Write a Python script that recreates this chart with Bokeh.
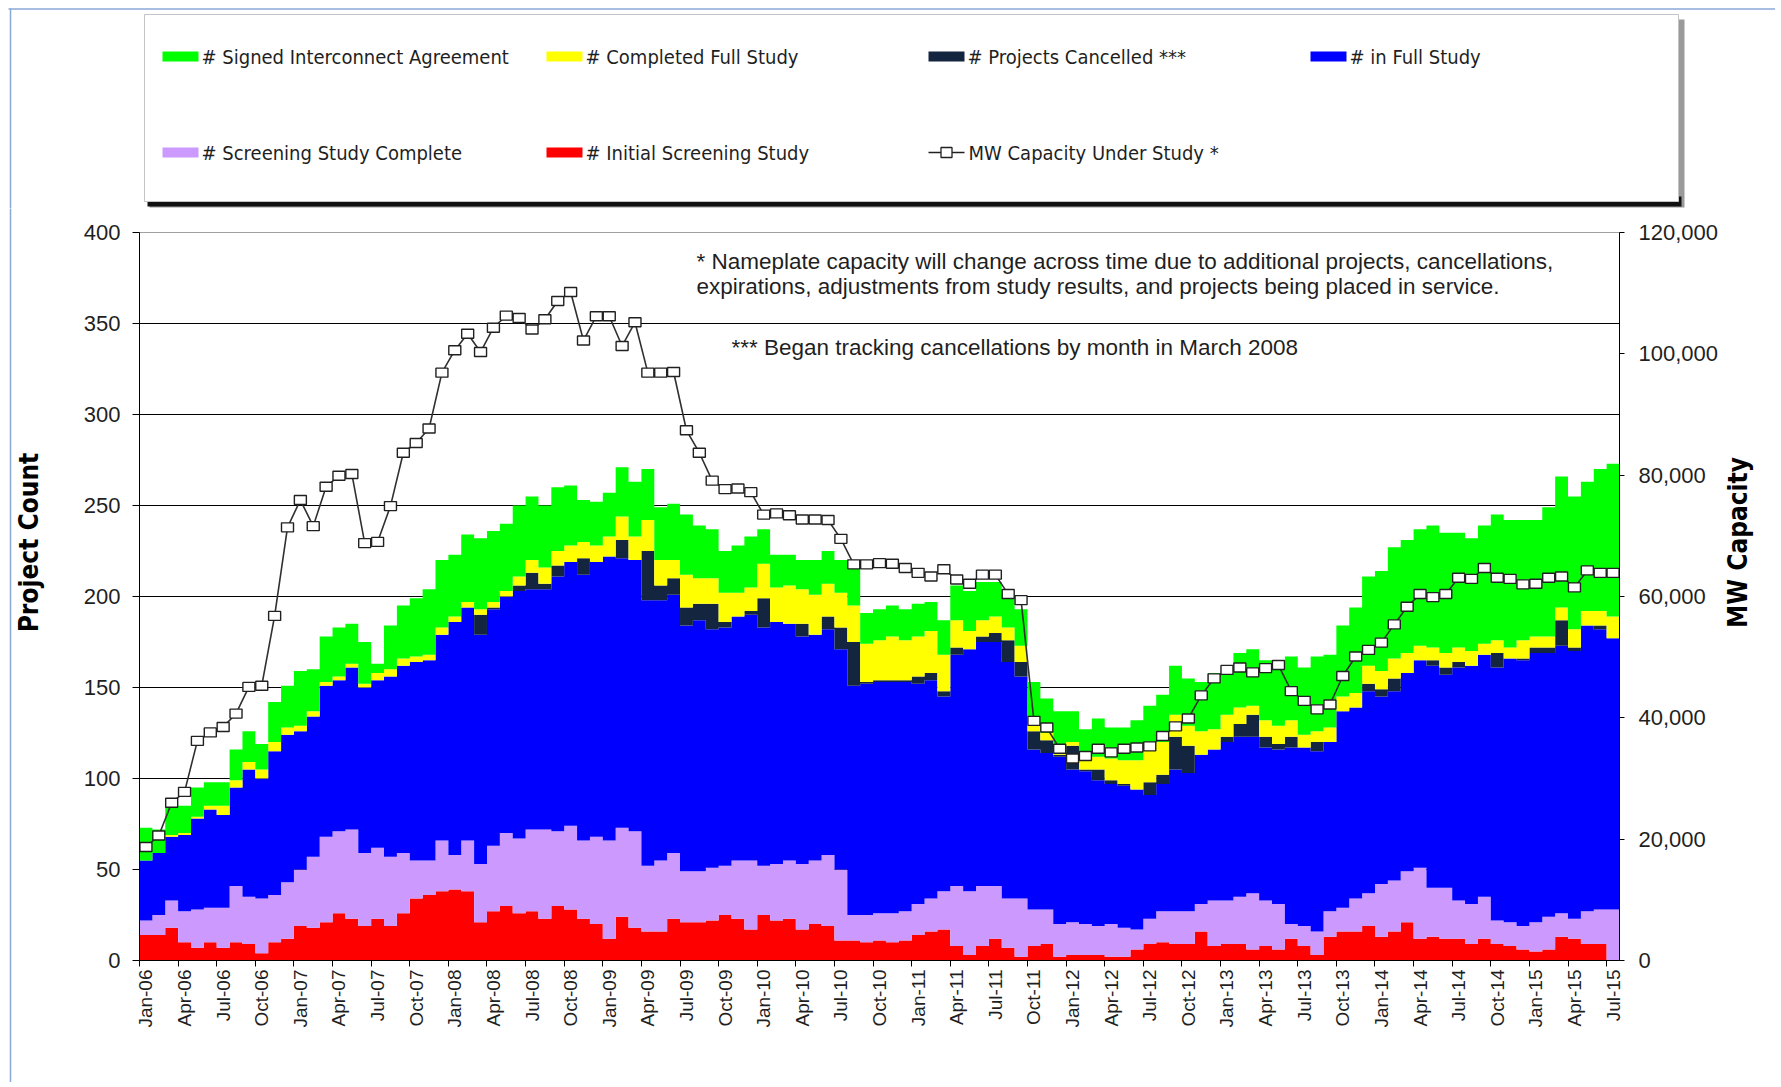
import numpy as np
from bokeh.plotting import figure
from bokeh.layouts import column, row
from bokeh.models import Range1d, LinearAxis, FixedTicker, NumeralTickFormatter, Label
from bokeh.embed import file_html
from bokeh.resources import INLINE

N_MONTHS = 115  # Jan-06 .. Jul-15
tick_labels = ["Jan-06","Apr-06","Jul-06","Oct-06","Jan-07","Apr-07","Jul-07","Oct-07",
               "Jan-08","Apr-08","Jul-08","Oct-08","Jan-09","Apr-09","Jul-09","Oct-09",
               "Jan-10","Apr-10","Jul-10","Oct-10","Jan-11","Apr-11","Jul-11","Oct-11",
               "Jan-12","Apr-12","Jul-12","Oct-12","Jan-13","Apr-13","Jul-13","Oct-13",
               "Jan-14","Apr-14","Jul-14","Oct-14","Jan-15","Apr-15","Jul-15"]

initial_screening = [14,14,18,10,7,10,7,10,9,4, 10,12,19,18,21,26,23,19,23,19,
                     26,34,36,38,39,38,21,27,30,26, 27,23,30,28,23,20,12,24,18,16,
                     16,23,21,21,22,25,23,17,25,22, 23,17,20,19,11,11,10,11,10,11,
                     14,16,17,8,3,8,12,7,2,8, 9,2,3,3,3,2,2,6,9,10,
                     9,9,16,8,9,9,6,8,6,12, 8,3,13,16,16,19,13,16,21,12,
                     13,12,12,9,12,9,8,6,5,6, 13,12,9,9,0]
screening_complete = [8,11,15,17,21,19,22,31,26,30, 26,31,31,39,47,45,49,40,39,38,
                      33,21,19,28,19,28,32,36,40,41, 45,49,41,46,43,48,54,49,53,36,
                      39,36,28,28,29,27,32,38,27,31, 32,36,35,39,39,14,15,15,16,16,
                      17,18,21,33,35,33,29,27,32,20, 19,18,18,17,16,18,16,11,14,17,
                      18,18,15,25,24,26,31,25,25,8, 11,13,14,13,18,18,29,28,28,39,
                      27,28,21,22,23,13,13,13,16,18, 13,11,18,19,28]
in_full_study = [33,34,35,42,50,54,51,54,70,66, 79,81,76,77,83,83,89,91,92,99,
                 103,109,110,113,128,128,126,130,130,136, 132,132,140,145,146,151,156,148,149,146,
                 143,142,135,138,131,131,134,135,131,133, 130,125,124,124,121,126,127,127,127,126,
                 121,120,107,127,133,134,134,130,122,88, 86,92,84,84,80,77,78,77,68,70,
                 78,76,82,83,87,88,86,84,85,97, 98,99,93,108,105,111,103,104,109,114,
                 122,117,128,131,133,139,145,146,148,145, 147,147,157,154,149]
projects_cancelled = [0,0,0,0,0,0,0,0,0,0, 0,0,0,0,0,0,0,0,0,0,
                      0,0,0,0,0,0,11,1,0,3, 9,3,6,0,9,0,0,10,0,27,
                      8,9,10,9,14,3,0,2,16,0, 0,7,0,7,12,24,1,1,1,1,
                      4,4,3,4,0,3,5,12,8,10, 7,1,13,1,6,2,1,0,7,5,
                      18,15,0,0,3,7,12,6,3,6, 0,5,0,0,0,4,4,7,0,0,
                      3,4,3,0,0,8,0,1,3,3, 14,2,0,2,0]
completed_full_study = [0,0,1,1,1,2,5,4,4,5, 5,4,3,3,2,2,2,2,4,4,
                        4,3,3,4,3,3,3,3,3,5, 7,9,8,9,9,9,11,13,13,17,
                        14,10,18,14,14,16,13,13,19,19, 21,19,22,18,19,20,21,22,24,22,
                        22,23,20,15,10,9,9,7,9,4, 4,5,2,7,7,12,13,16,21,18,
                        12,11,13,11,12,9,5,9,10,9, 7,6,8,8,8,10,10,11,11,8,
                        7,8,8,8,6,7,6,10,6,6, 7,10,8,8,12]
signed_ia = [18,13,18,15,16,13,13,17,17,14, 22,23,30,23,25,27,22,23,5,24,
             29,32,36,37,34,37,39,39,37,39, 35,34,35,33,23,24,24,27,30,28,
             29,31,33,29,27,23,26,28,19,18, 17,16,19,18,18,21,17,17,17,17,
             18,16,19,19,22,21,19,18,20,23, 19,19,17,15,21,17,18,22,21,26,
             27,26,27,31,23,30,31,33,35,35, 37,41,40,39,47,49,55,61,62,64,
             67,66,63,62,65,69,70,66,64,71, 72,73,71,78,84]
mw_capacity = [18700,20600,26000,27800,36200,37600,38500,40700,45100,45300,
               56800,71400,75900,71600,78100,79900,80200,68800,69000,74900,
               83700,85300,87700,96900,100600,103300,100300,104300,106300,105900,
               104000,105700,108700,110200,102200,106200,106200,101300,105200,96900,
               96900,97000,87400,83700,79100,77700,77800,77200,73500,73700,
               73400,72700,72700,72600,69500,65300,65300,65500,65400,64700,
               63900,63300,64500,62800,62100,63600,63600,60400,59400,39500,
               38400,34900,33300,33700,34900,34300,34900,35100,35300,37000,
               38600,39900,43700,46500,47900,48300,47500,48200,48700,44400,
               42800,41400,42200,46900,50100,51200,52400,55400,58300,60400,
               59900,60400,63100,62900,64700,63100,62900,62000,62100,63100,
               63300,61500,64300,63900,63900]

series = [("# Initial Screening Study", initial_screening, "#FF0000"),
          ("# Screening Study Complete", screening_complete, "#CC99FF"),
          ("# in Full Study", in_full_study, "#0000FF"),
          ("# Projects Cancelled ***", projects_cancelled, "#14263F"),
          ("# Completed Full Study", completed_full_study, "#FFFF00"),
          ("# Signed Interconnect Agreement", signed_ia, "#00FF00")]

# ---------------- page layout (pixels) ----------------
W = 1775
LEG_H = 208                 # legend strip height
LS_W = 50                   # left strip (border line + left title)
RS_X = 1720                 # right strip starts here (right title)
FL, FT, FW, FH = 139, 232, 1480, 728   # plot frame in page coords
CH = 1082 - LEG_H           # chart row height
YMAX = 400
TITLE_Y = 542               # page y of axis-title centres
BORDER_COL = "#8aa8d8"

FONT = "Liberation Sans, Arial, sans-serif"
NARROW = "DejaVu Sans Condensed, Liberation Sans Narrow, Arial Narrow, sans-serif"
TXT = "#1f1f1f"

def blank_fig(w, h, xr, yr):
    f = figure(frame_width=w, frame_height=h, x_range=xr, y_range=yr,
               min_border=0, min_border_left=0, min_border_right=0,
               min_border_top=0, min_border_bottom=0,
               output_backend="svg", toolbar_location=None,
               background_fill_color="white", border_fill_color="white")
    f.axis.visible = False
    f.grid.visible = False
    f.outline_line_color = None
    f.frame_align = False
    return f

# ---------------- legend figure (coords = page pixels, y down) ----------------
leg = blank_fig(W, LEG_H, Range1d(0, W), Range1d(LEG_H, 0))
leg.segment(x0=[8], y0=[8.5], x1=[W], y1=[8.5], line_color=BORDER_COL, line_width=1.5)
leg.segment(x0=[10], y0=[8], x1=[10], y1=[LEG_H], line_color=BORDER_COL, line_width=1.5)
leg.quad(left=[149], right=[1684], top=[19], bottom=[207], fill_color="#9a9a9a", line_color=None)
leg.quad(left=[147], right=[1681], top=[196], bottom=[206], fill_color="#111111", line_color=None)
leg.quad(left=[144], right=[1678], top=[14], bottom=[201], fill_color="white",
         line_color="#c4c4c4", line_width=1)

legend_cols = [162, 546, 928, 1310]
legend_rows = [56, 152]
legend_layout = [("# Signed Interconnect Agreement", "#00FF00", 0, 0),
                 ("# Completed Full Study", "#FFFF00", 1, 0),
                 ("# Projects Cancelled ***", "#14263F", 2, 0),
                 ("# in Full Study", "#0000FF", 3, 0),
                 ("# Screening Study Complete", "#CC99FF", 0, 1),
                 ("# Initial Screening Study", "#FF0000", 1, 1)]
for name, col, c, r in legend_layout:
    x0, yc = legend_cols[c], legend_rows[r]
    leg.quad(left=[x0], right=[x0 + 36], top=[yc - 5], bottom=[yc + 5], fill_color=col, line_color=None)
    leg.add_layout(Label(x=x0 + 39, y=yc, text=name, text_font=NARROW, text_font_size="20px",
                         text_color=TXT, text_baseline="middle", text_align="left"))
x0, yc = legend_cols[2], legend_rows[1]
leg.segment(x0=[x0], y0=[yc], x1=[x0 + 36], y1=[yc], line_color="#202020", line_width=1.6)
leg.rect(x=[x0 + 18], y=[yc], width=11, height=10, fill_color="white", line_color="#202020", line_width=1.3)
leg.add_layout(Label(x=x0 + 40, y=yc, text="MW Capacity Under Study *", text_font=NARROW,
                     text_font_size="20px", text_color=TXT, text_baseline="middle", text_align="left"))

# ---------------- left strip: border line + "Project Count" ----------------
lstrip = blank_fig(LS_W, CH, Range1d(0, LS_W), Range1d(CH, 0))
lstrip.segment(x0=[10], y0=[-5], x1=[10], y1=[CH + 5], line_color=BORDER_COL, line_width=1.5)
lstrip.add_layout(Label(x=28, y=TITLE_Y - LEG_H, text="Project Count", angle=np.pi / 2,
                        text_font=NARROW, text_font_style="bold", text_font_size="26px",
                        text_color="black", text_align="center", text_baseline="middle"))

# ---------------- right strip: "MW Capacity" ----------------
rstrip = blank_fig(W - RS_X, CH, Range1d(0, W - RS_X), Range1d(CH, 0))
rstrip.add_layout(Label(x=1736 - RS_X, y=TITLE_Y - LEG_H, text="MW Capacity", angle=np.pi / 2,
                        text_font=NARROW, text_font_style="bold", text_font_size="26px",
                        text_color="black", text_align="center", text_baseline="middle"))

# ---------------- main chart ----------------
bl = FL - LS_W
bt = FT - LEG_H
br = RS_X - (FL + FW)
p = figure(frame_width=FW, frame_height=FH,
           min_border_left=bl, min_border_top=bt,
           min_border_right=br, min_border_bottom=CH - bt - FH,
           x_range=Range1d(-0.5, N_MONTHS - 0.5), y_range=Range1d(0, YMAX),
           output_backend="svg", toolbar_location=None,
           background_fill_color="white", border_fill_color="white")
p.frame_align = False
p.extra_y_ranges = {"mw": Range1d(0, 120000)}

def dx(px):
    return (px - FL) / FW * N_MONTHS - 0.5

def dy(py):
    return (FT + FH - py) / FH * YMAX

edges = np.arange(N_MONTHS + 1) - 0.5
base = np.zeros(N_MONTHS)
for name, vals, col in series:
    top = base + np.array(vals, dtype=float)
    p.varea_step(x=edges, y1=np.append(base, base[-1]), y2=np.append(top, top[-1]),
                 step_mode="after", fill_color=col)
    base = top

xs = np.arange(N_MONTHS)
p.line(xs, mw_capacity, y_range_name="mw", line_color="#303030", line_width=1.6)
p.rect(xs, mw_capacity, width=12, height=9, width_units="screen", height_units="screen",
       y_range_name="mw", fill_color="white", line_color="#202020", line_width=1.4)

p.xaxis.ticker = FixedTicker(ticks=list(range(0, N_MONTHS, 3)),
                             minor_ticks=[i - 0.5 for i in range(0, N_MONTHS + 1, 3)])
p.xaxis.major_label_overrides = {i * 3: lab for i, lab in enumerate(tick_labels)}
p.xaxis.major_label_orientation = np.pi / 2
p.xaxis.major_tick_line_color = None
p.xaxis.minor_tick_line_color = "black"
p.xaxis.minor_tick_in = 0
p.xaxis.minor_tick_out = 6
p.xaxis.major_label_standoff = 3
p.xaxis.major_label_text_font = FONT
p.xaxis.major_label_text_font_size = "19px"
p.xaxis.major_label_text_color = TXT
p.xaxis.axis_line_color = "black"

p.yaxis.ticker = FixedTicker(ticks=list(range(0, 401, 50)))
p.yaxis.major_tick_in = 0
p.yaxis.major_tick_out = 7
p.yaxis.minor_tick_line_color = None
p.yaxis.major_label_standoff = 12
p.yaxis.major_label_text_font = FONT
p.yaxis.major_label_text_font_size = "22px"
p.yaxis.major_label_text_color = TXT
p.yaxis.axis_line_color = "black"

ax2 = LinearAxis(y_range_name="mw", ticker=FixedTicker(ticks=list(range(0, 120001, 20000))),
                 formatter=NumeralTickFormatter(format="0,0"))
ax2.major_tick_in = 0
ax2.major_tick_out = 5
ax2.minor_tick_line_color = None
ax2.major_label_standoff = 14
ax2.major_label_text_font = FONT
ax2.major_label_text_font_size = "22px"
ax2.major_label_text_color = TXT
ax2.axis_line_color = "black"
p.add_layout(ax2, "right")

p.xgrid.grid_line_color = None
p.ygrid.ticker = FixedTicker(ticks=list(range(50, 400, 50)))
p.ygrid.grid_line_color = "black"
p.ygrid.grid_line_width = 1
p.outline_line_color = "#a0a0a0"

for txt, px, py in [("* Nameplate capacity will change across time due to additional projects, cancellations,", 696, 261),
                    ("expirations, adjustments  from study results, and projects being placed in service.", 696, 286),
                    ("*** Began tracking cancellations by month in March 2008", 731, 347)]:
    p.add_layout(Label(x=dx(px), y=dy(py), text=txt, text_font=FONT, text_font_size="22.5px",
                       text_color=TXT, text_baseline="middle", text_align="left"))

layout = column(leg, row(lstrip, p, rstrip, spacing=0), spacing=0)
open("out.html", "w").write(file_html(layout, INLINE))
